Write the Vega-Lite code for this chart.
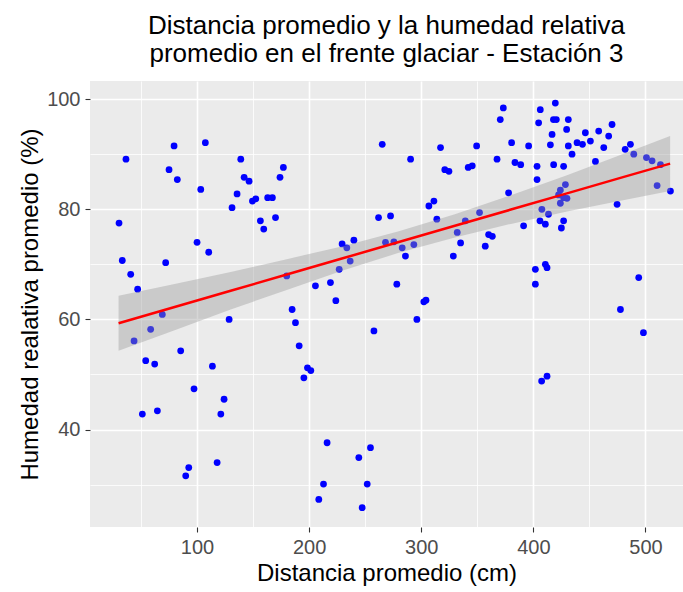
{
  "$schema": "https://vega.github.io/schema/vega-lite/v6.json",
  "width": 593,
  "height": 446,
  "autosize": {"type": "none"},
  "padding": {"left": 90, "top": 81, "right": 0, "bottom": 65},
  "background": "white",
  "config": {
    "view": {"fill": "#EBEBEB", "stroke": null},
    "font": "Liberation Sans",
    "axis": {
      "labelFont": "Liberation Sans",
      "titleFont": "Liberation Sans",
      "labelColor": "#4D4D4D",
      "labelFontSize": 20,
      "titleFontSize": 24,
      "titleFontWeight": "normal",
      "titleColor": "#000000",
      "tickColor": "#333333",
      "tickSize": 5,
      "tickWidth": 1.1,
      "domain": false,
      "gridColor": "#FFFFFF"
    }
  },
  "title": {
    "text": ["Distancia promedio y la humedad relativa", "promedio en el frente glaciar - Estación 3"],
    "font": "Liberation Sans",
    "fontSize": 26,
    "fontWeight": "normal",
    "color": "#000000",
    "anchor": "middle",
    "lineHeight": 28,
    "offset": 14
  },
  "datasets": {
    "points": [
      {"dist": 36.6, "hum": 89.1}, {"dist": 79.5, "hum": 91.5}, {"dist": 107.4, "hum": 92.1}, {"dist": 75.0, "hum": 87.2},
      {"dist": 82.4, "hum": 85.4}, {"dist": 103.3, "hum": 83.6}, {"dist": 30.4, "hum": 77.5}, {"dist": 139.0, "hum": 89.1},
      {"dist": 177.0, "hum": 87.6}, {"dist": 142.0, "hum": 85.8}, {"dist": 146.4, "hum": 85.1}, {"dist": 174.0, "hum": 85.8},
      {"dist": 135.7, "hum": 82.8}, {"dist": 149.4, "hum": 81.5}, {"dist": 152.4, "hum": 81.9}, {"dist": 163.0, "hum": 82.1},
      {"dist": 167.2, "hum": 82.1}, {"dist": 131.2, "hum": 80.3}, {"dist": 156.5, "hum": 77.9}, {"dist": 159.5, "hum": 76.4},
      {"dist": 170.0, "hum": 78.5}, {"dist": 100.0, "hum": 74.0}, {"dist": 110.4, "hum": 72.2}, {"dist": 33.3, "hum": 70.7},
      {"dist": 72.0, "hum": 70.3}, {"dist": 40.8, "hum": 68.2}, {"dist": 47.0, "hum": 65.5},
      {"dist": 69.0, "hum": 60.9}, {"dist": 58.6, "hum": 58.2}, {"dist": 43.8, "hum": 56.1}, {"dist": 128.6, "hum": 60.0},
      {"dist": 85.4, "hum": 54.3}, {"dist": 54.2, "hum": 52.5}, {"dist": 62.2, "hum": 51.9}, {"dist": 113.7, "hum": 51.5},
      {"dist": 97.3, "hum": 47.4}, {"dist": 124.1, "hum": 45.5}, {"dist": 51.2, "hum": 42.8}, {"dist": 64.6, "hum": 43.4},
      {"dist": 121.2, "hum": 42.8}, {"dist": 117.9, "hum": 34.0}, {"dist": 92.6, "hum": 33.1}, {"dist": 89.9, "hum": 31.6},
      {"dist": 265.2, "hum": 91.8}, {"dist": 290.5, "hum": 89.1}, {"dist": 317.2, "hum": 91.2}, {"dist": 349.4, "hum": 91.5},
      {"dist": 321.0, "hum": 87.2}, {"dist": 324.7, "hum": 86.9}, {"dist": 341.9, "hum": 87.6}, {"dist": 345.5, "hum": 87.9},
      {"dist": 306.8, "hum": 80.6}, {"dist": 311.3, "hum": 81.5}, {"dist": 261.9, "hum": 78.5}, {"dist": 272.6, "hum": 78.8},
      {"dist": 313.9, "hum": 78.2}, {"dist": 352.0, "hum": 79.4}, {"dist": 339.3, "hum": 77.9}, {"dist": 332.1, "hum": 75.8},
      {"dist": 335.1, "hum": 73.9}, {"dist": 328.6, "hum": 71.5}, {"dist": 229.4, "hum": 73.7}, {"dist": 233.6, "hum": 73.0},
      {"dist": 239.9, "hum": 74.4}, {"dist": 236.6, "hum": 70.6}, {"dist": 226.8, "hum": 69.1}, {"dist": 268.1, "hum": 74.0},
      {"dist": 275.6, "hum": 74.1}, {"dist": 283.0, "hum": 73.0}, {"dist": 293.4, "hum": 73.6}, {"dist": 285.9, "hum": 71.5},
      {"dist": 180.0, "hum": 67.9}, {"dist": 205.6, "hum": 66.1}, {"dist": 219.0, "hum": 66.7}, {"dist": 278.2, "hum": 66.4},
      {"dist": 223.8, "hum": 63.4}, {"dist": 302.3, "hum": 63.2}, {"dist": 304.2, "hum": 63.5},
      {"dist": 184.8, "hum": 61.8}, {"dist": 187.8, "hum": 59.4}, {"dist": 191.1, "hum": 55.2}, {"dist": 198.5, "hum": 51.2},
      {"dist": 201.5, "hum": 50.7}, {"dist": 195.3, "hum": 49.4}, {"dist": 296.1, "hum": 60.0}, {"dist": 257.8, "hum": 57.9},
      {"dist": 216.0, "hum": 37.6}, {"dist": 254.7, "hum": 36.7}, {"dist": 244.3, "hum": 34.9}, {"dist": 212.8, "hum": 30.1},
      {"dist": 251.8, "hum": 30.1}, {"dist": 208.6, "hum": 27.3}, {"dist": 247.3, "hum": 25.8},
      {"dist": 373.2, "hum": 98.4}, {"dist": 370.5, "hum": 96.3}, {"dist": 380.6, "hum": 92.1}, {"dist": 395.8, "hum": 91.5},
      {"dist": 367.6, "hum": 89.1}, {"dist": 383.6, "hum": 88.5}, {"dist": 388.7, "hum": 88.1}, {"dist": 406.2, "hum": 98.1},
      {"dist": 404.7, "hum": 95.7}, {"dist": 419.6, "hum": 99.3}, {"dist": 417.9, "hum": 96.3}, {"dist": 420.5, "hum": 96.3},
      {"dist": 431.2, "hum": 96.3}, {"dist": 429.7, "hum": 94.5}, {"dist": 416.7, "hum": 93.6}, {"dist": 415.2, "hum": 91.7},
      {"dist": 431.2, "hum": 91.5}, {"dist": 434.5, "hum": 90.0}, {"dist": 439.0, "hum": 92.1}, {"dist": 443.8, "hum": 91.8},
      {"dist": 446.4, "hum": 93.9}, {"dist": 450.9, "hum": 92.4}, {"dist": 458.3, "hum": 94.2}, {"dist": 467.2, "hum": 93.3},
      {"dist": 470.2, "hum": 95.4}, {"dist": 462.8, "hum": 91.2}, {"dist": 455.4, "hum": 88.7}, {"dist": 481.9, "hum": 90.9},
      {"dist": 486.6, "hum": 91.8}, {"dist": 489.6, "hum": 90.0}, {"dist": 500.9, "hum": 89.4}, {"dist": 505.9, "hum": 88.8},
      {"dist": 513.4, "hum": 88.1}, {"dist": 510.4, "hum": 84.3}, {"dist": 522.3, "hum": 83.3}, {"dist": 403.3, "hum": 87.8},
      {"dist": 418.1, "hum": 88.1}, {"dist": 427.0, "hum": 87.8}, {"dist": 403.3, "hum": 85.4}, {"dist": 377.9, "hum": 83.0},
      {"dist": 424.1, "hum": 83.5}, {"dist": 428.6, "hum": 84.5}, {"dist": 422.5, "hum": 82.6}, {"dist": 427.0, "hum": 82.1},
      {"dist": 424.1, "hum": 81.1}, {"dist": 430.0, "hum": 82.0}, {"dist": 407.6, "hum": 80.0}, {"dist": 413.5, "hum": 79.1},
      {"dist": 405.9, "hum": 77.9}, {"dist": 410.7, "hum": 77.3}, {"dist": 427.0, "hum": 77.9}, {"dist": 425.0, "hum": 76.6},
      {"dist": 391.3, "hum": 77.0}, {"dist": 360.1, "hum": 75.4}, {"dist": 363.4, "hum": 75.1}, {"dist": 357.1, "hum": 73.3},
      {"dist": 474.7, "hum": 80.9}, {"dist": 401.8, "hum": 69.1}, {"dist": 410.7, "hum": 70.0}, {"dist": 412.2, "hum": 69.4},
      {"dist": 401.8, "hum": 66.4}, {"dist": 494.0, "hum": 67.6},
      {"dist": 477.7, "hum": 61.8}, {"dist": 498.2, "hum": 57.6}, {"dist": 407.4, "hum": 48.8}, {"dist": 412.2, "hum": 49.7}
    ],
    "fit": [
      {"dist": 30, "fit": 59.3, "lo": 54.3, "hi": 64.3},
      {"dist": 80, "fit": 62.25, "lo": 58.05, "hi": 66.45},
      {"dist": 130, "fit": 65.2, "lo": 61.8, "hi": 68.6},
      {"dist": 180, "fit": 68.15, "lo": 65.35, "hi": 70.95},
      {"dist": 230, "fit": 71.1, "lo": 68.9, "hi": 73.3},
      {"dist": 280, "fit": 74.05, "lo": 72.1, "hi": 76.0},
      {"dist": 330, "fit": 77.0, "lo": 74.9, "hi": 79.1},
      {"dist": 380, "fit": 79.95, "lo": 77.35, "hi": 82.55},
      {"dist": 430, "fit": 82.9, "lo": 79.6, "hi": 86.2},
      {"dist": 480, "fit": 85.85, "lo": 81.65, "hi": 90.05},
      {"dist": 522, "fit": 88.3, "lo": 83.3, "hi": 93.3}
    ]
  },
  "layer": [
    {
      "data": {"name": "points"},
      "mark": {"type": "point", "filled": true, "shape": "circle", "size": 46, "color": "#0000FF", "opacity": 1},
      "encoding": {
        "x": {"field": "dist", "type": "quantitative",
              "scale": {"domain": [4.5, 533.5], "nice": false, "zero": false},
              "axis": {"orient": "top", "values": [50, 150, 250, 350, 450], "labels": false, "ticks": false, "title": null, "grid": true, "gridWidth": 0.8}},
        "y": {"field": "hum", "type": "quantitative",
              "scale": {"domain": [22.3, 103.3], "nice": false, "zero": false},
              "axis": {"orient": "right", "values": [30, 50, 70, 90], "labels": false, "ticks": false, "title": null, "grid": true, "gridWidth": 0.8}}
      }
    },
    {
      "data": {"name": "fit"},
      "mark": {"type": "area", "color": "#999999", "opacity": 0.4},
      "encoding": {
        "x": {"field": "dist", "type": "quantitative",
              "axis": {"orient": "bottom", "values": [100, 200, 300, 400, 500], "title": "Distancia promedio (cm)", "grid": true, "gridWidth": 1.6, "labelPadding": 5, "titlePadding": 4}},
        "y": {"field": "lo", "type": "quantitative",
              "axis": {"orient": "left", "values": [40, 60, 80, 100], "title": "Humedad realativa promedio (%)", "grid": true, "gridWidth": 1.6, "labelPadding": 5, "titlePadding": 4}},
        "y2": {"field": "hi"}
      }
    },
    {
      "data": {"name": "fit"},
      "mark": {"type": "line", "color": "#FF0000", "strokeWidth": 2.5},
      "encoding": {
        "x": {"field": "dist", "type": "quantitative", "axis": null},
        "y": {"field": "fit", "type": "quantitative", "axis": null}
      }
    }
  ],
  "resolve": {"axis": {"x": "independent", "y": "independent"}}
}
